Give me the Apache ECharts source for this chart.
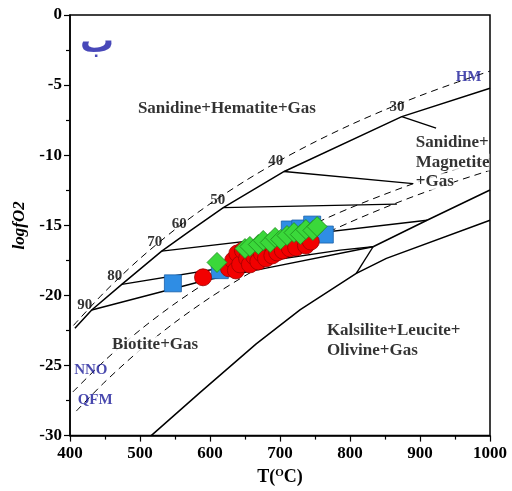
<!DOCTYPE html>
<html>
<head>
<meta charset="utf-8">
<script src="https://cdn.jsdelivr.net/npm/echarts@6/dist/echarts.min.js"></script>
<style>
  html, body { margin: 0; padding: 0; background: #fff; }
  #chart { width: 512px; height: 491px; }
</style>
</head>
<body>
<div id="chart"></div>
<script>
// ---- Axis ticks ----
const X_TICKS = [400, 500, 600, 700, 800, 900, 1000];
const Y_TICKS = [-30, -25, -20, -15, -10, -5, 0];

// ---- Upper biotite stability curve, with annite isopleth nodes ----
const MAIN_T = [407, 431, 474, 531, 571, 619, 706, 874, 1000];
const MAIN_Y = [-22.35, -21.04, -19.21, -16.84, -15.42, -13.74, -11.16, -7.25, -5.23];

// ---- Isopleth tie lines (T, logfO2) ----
const TIE90_T = [431, 595, 666, 833];
const TIE90_Y = [-21.04, -18.9, -18.2, -16.53];
const TIE80_T = [474, 657, 786, 833];
const TIE80_Y = [-19.21, -17.72, -16.77, -16.53];
const TIE70_T = [531, 910];
const TIE70_Y = [-16.84, -14.64];
const TIE50_T = [619, 867];
const TIE50_Y = [-13.74, -13.49];
const TIE40_T = [706, 890];
const TIE40_Y = [-11.16, -12.03];
const TIE30_T = [874, 923];
const TIE30_Y = [-7.25, -8.07];

// ---- Kalsilite+Leucite+Olivine+Gas boundary and related segments ----
const KLO_T = [516, 586, 666, 729, 809, 852, 1000];
const KLO_Y = [-30, -26.92, -23.46, -21.02, -18.43, -17.36, -14.64];
const SHORT_T = [809, 833];
const SHORT_Y = [-18.43, -16.53];
const UPPER_T = [833, 910, 1000];
const UPPER_Y = [-16.53, -14.64, -12.48];

// ---- Oxygen buffers ----
const HM_T = [405, 450, 500, 550, 600, 650, 700, 750, 800, 850, 900, 950, 1000];
const HM_Y = [-22.14, -19.73, -17.37, -15.30, -13.47, -11.84, -10.37, -9.05, -7.85, -6.76, -5.76, -4.85, -4.00];
const NNO_T = [404, 450, 500, 550, 600, 650, 700, 750, 800, 850, 900, 950, 1000];
const NNO_Y = [-26.89, -24.63, -22.47, -20.58, -18.91, -17.42, -16.08, -14.87, -13.77, -12.78, -11.86, -11.03, -10.25];
const QFM_T = [409, 450, 500, 550, 600, 650, 700, 750, 800, 850, 900, 950, 1000];
const QFM_Y = [-28.25, -26.16, -23.90, -21.92, -20.16, -18.60, -17.19, -15.93, -14.78, -13.73, -12.77, -11.89, -11.08];

// ---- Samples ----
const RED_T = [590, 627, 633, 637, 639, 643, 647, 653, 657, 663, 669, 674, 680, 689, 696, 704, 714, 723, 737, 744];
const RED_Y = [-18.71, -18.07, -17.51, -18.22, -17.01, -17.79, -16.80, -17.37, -17.79, -17.22, -17.58, -17.01, -17.36, -17.15, -16.94, -16.80, -16.65, -16.58, -16.44, -16.16];
const GREEN_T = [610, 650, 657, 669, 676, 686, 693, 701, 710, 720, 729, 737, 747, 753];
const GREEN_Y = [-17.65, -16.66, -16.51, -16.37, -16.08, -16.23, -15.87, -16.01, -15.73, -15.52, -15.66, -15.30, -15.37, -15.09];
const BLUE_T = [547, 614, 714, 729, 746, 764];
const BLUE_Y = [-19.14, -18.2, -15.3, -15.23, -14.95, -15.66];

// ---- Text labels ----
const FIELD_TEXT = ['Sanidine+Hematite+Gas', 'Sanidine+', 'Magnetite', '+Gas', 'Biotite+Gas', 'Kalsilite+Leucite+', 'Olivine+Gas'];
const FIELD_T = [497, 894, 894, 894, 460, 767, 767];
const FIELD_Y = [-6.7, -9.08, -10.5, -11.89, -23.51, -22.52, -23.94];
const BUFFER_TEXT = ['HM', 'NNO', 'QFM'];
const BUFFER_T = [951, 406, 411];
const BUFFER_Y = [-4.46, -25.36, -27.46];
const ISO_TEXT = ['30', '40', '50', '60', '70', '80', '90'];
const ISO_T = [867, 694, 611, 556, 521, 464, 421];
const ISO_Y = [-6.56, -10.40, -13.24, -14.95, -16.23, -18.64, -20.70];
const PANEL_TEXT = ['ب'];
const PANEL_T = [438.6];
const PANEL_Y = [-2.0];

const SERIF = "'Liberation Serif', 'Times New Roman', serif";
const zip = (a, b) => a.map((v, i) => [v, b[i]]);

function solid(t, y, w) {
  return {
    type: 'line', data: zip(t, y), showSymbol: false, symbol: 'none',
    lineStyle: { color: '#000', width: w || 1.4 }, z: 2, silent: true
  };
}
function dashed(t, y) {
  return {
    type: 'line', data: zip(t, y), showSymbol: false, symbol: 'none', smooth: 0.3,
    lineStyle: { color: '#000', width: 1, type: [7, 5] }, z: 2, silent: true
  };
}
function textLayer(texts, t, y, opts) {
  return {
    type: 'scatter', symbolSize: 0, z: opts.z || 20, silent: true,
    data: texts.map((s, i) => ({ value: [t[i], y[i]], name: s })),
    label: Object.assign({
      show: true, formatter: p => p.name, color: '#000',
      fontFamily: SERIF, fontWeight: 'bold', fontSize: 17
    }, opts.label)
  };
}

const chart = echarts.init(document.getElementById('chart'), null, { renderer: 'canvas' });
chart.setOption({
  animation: false,
  backgroundColor: '#fff',
  grid: { left: 70, right: 22, top: 15, bottom: 54, show: true, borderColor: '#000', borderWidth: 1.5, backgroundColor: '#fff' },
  xAxis: {
    type: 'value', min: X_TICKS[0], max: X_TICKS[X_TICKS.length - 1], interval: 100,
    axisLine: { onZero: false, lineStyle: { color: '#000', width: 1.5 } },
    axisTick: { length: 6, lineStyle: { color: '#000', width: 1.2 } },
    minorTick: { show: true, splitNumber: 2, length: 4, lineStyle: { color: '#000', width: 1.2 } },
    splitLine: { show: false },
    axisLabel: { color: '#000', fontFamily: SERIF, fontWeight: 'bold', fontSize: 17, margin: 10, formatter: v => String(v) },
    name: '{a|T(}{b|O}{a|C)}', nameLocation: 'middle', nameGap: 30,
    nameTextStyle: {
      rich: {
        a: { fontFamily: SERIF, fontWeight: 'bold', fontSize: 18, color: '#000' },
        b: { fontFamily: SERIF, fontWeight: 'bold', fontSize: 11, color: '#000', verticalAlign: 'top', padding: [0, 0, 8, 0] }
      }
    }
  },
  yAxis: {
    type: 'value', min: Y_TICKS[0], max: Y_TICKS[Y_TICKS.length - 1], interval: 5,
    axisLine: { onZero: false, lineStyle: { color: '#000', width: 1.5 } },
    axisTick: { length: 6, lineStyle: { color: '#000', width: 1.2 } },
    minorTick: { show: true, splitNumber: 2, length: 4, lineStyle: { color: '#000', width: 1.2 } },
    splitLine: { show: false },
    axisLabel: { color: '#000', fontFamily: SERIF, fontWeight: 'bold', fontSize: 17, margin: 8, formatter: v => String(v) },
    name: 'logfO2', nameLocation: 'middle', nameGap: 39,
    nameTextStyle: { color: '#000', fontFamily: SERIF, fontWeight: 'bold', fontStyle: 'italic', fontSize: 17 }
  },
  series: [
    dashed(HM_T, HM_Y),
    dashed(NNO_T, NNO_Y),
    dashed(QFM_T, QFM_Y),
    solid(MAIN_T, MAIN_Y, 1.5),
    solid(TIE90_T, TIE90_Y),
    solid(TIE80_T, TIE80_Y),
    solid(TIE70_T, TIE70_Y),
    solid(TIE50_T, TIE50_Y),
    solid(TIE40_T, TIE40_Y),
    solid(TIE30_T, TIE30_Y),
    solid(KLO_T, KLO_Y, 1.5),
    solid(SHORT_T, SHORT_Y),
    solid(UPPER_T, UPPER_Y, 1.5),
    {
      type: 'scatter', data: zip(BLUE_T, BLUE_Y), symbol: 'rect', symbolSize: 17, z: 5,
      itemStyle: { color: '#2f8de4', borderColor: '#1b5fa8', borderWidth: 0.8, opacity: 1 }
    },
    {
      type: 'scatter', data: zip(RED_T, RED_Y), symbol: 'circle', symbolSize: 17, z: 6,
      itemStyle: { color: '#f20000', borderColor: '#a00000', borderWidth: 0.8, opacity: 1 }
    },
    {
      type: 'scatter', data: zip(GREEN_T, GREEN_Y), symbol: 'diamond', symbolSize: 20, z: 7,
      itemStyle: { color: '#3ad83a', borderColor: '#1d8a1d', borderWidth: 0.8, opacity: 1 }
    },
    textLayer(FIELD_TEXT, FIELD_T, FIELD_Y, {
      label: { position: 'right', distance: 0, backgroundColor: '#fff', padding: [0, 0, 0, 0] }
    }),
    textLayer(BUFFER_TEXT, BUFFER_T, BUFFER_Y, {
      label: { position: 'right', distance: 0, color: '#1c1c9a', fontSize: 15 }
    }),
    textLayer(ISO_TEXT, ISO_T, ISO_Y, {
      label: { position: 'inside', fontSize: 15 }
    }),
    textLayer(PANEL_TEXT, PANEL_T, PANEL_Y, {
      label: { position: 'inside', color: '#1a1aa8', fontSize: 34, fontFamily: "'DejaVu Sans', 'Noto Sans', sans-serif", fontWeight: 'bold' }
    })
  ]
});
</script>
</body>
</html>
